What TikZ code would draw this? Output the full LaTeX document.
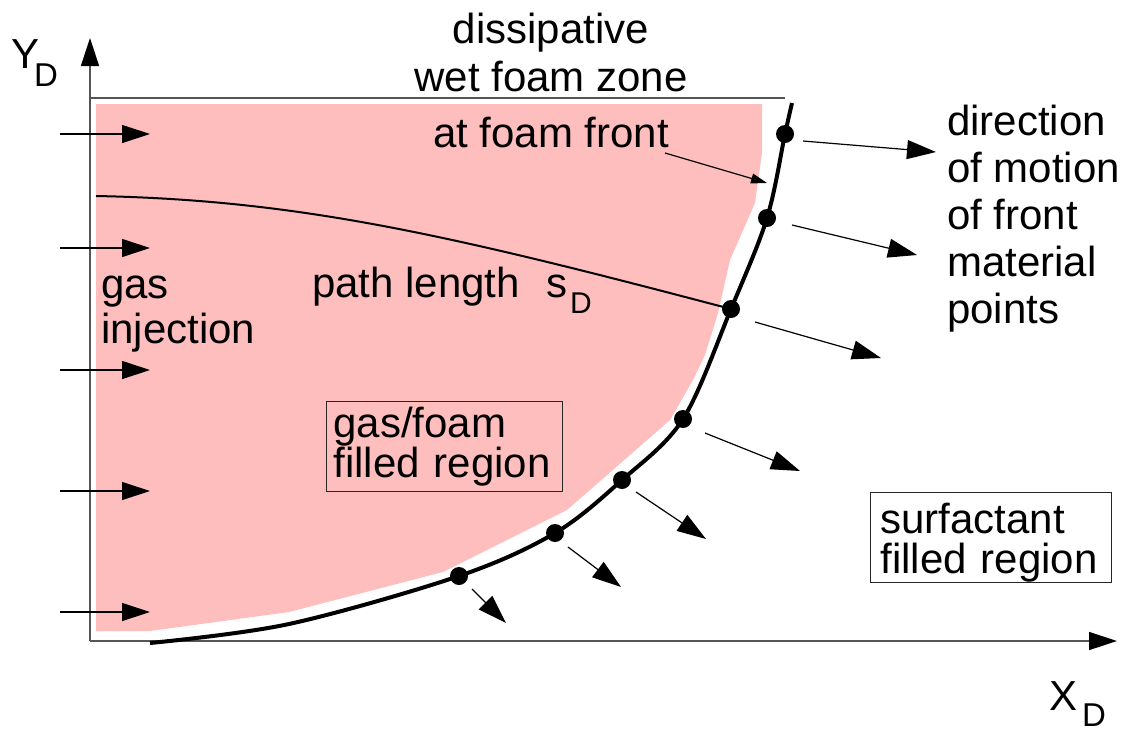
\documentclass[tikz,border=0pt]{standalone}
\usepackage{fontspec}
\setmainfont{Liberation Sans}
\usetikzlibrary{arrows.meta}
\definecolor{foam}{RGB}{255,190,190}
\definecolor{axisgray}{RGB}{85,85,85}
\begin{document}
\begin{tikzpicture}[x=1pt,y=-1pt,
  lbl/.style={font=\fontsize{42}{48}\selectfont, inner sep=0pt, anchor=base west, align=left},
  axisline/.style={line width=1.5pt, draw=axisgray, -{Triangle[length=28pt,width=18pt,color=black]}},
  flow/.style={line width=1.2pt, -{Triangle[length=28pt,width=18pt]}},
  motion/.style={line width=1.2pt, -{Triangle[length=29pt,width=19pt]}},
  pointer/.style={line width=1.2pt, -{Triangle[length=16pt,width=10pt]}},
  frontline/.style={line width=4pt},
  dot/.style={circle, fill=black, minimum size=18pt, inner sep=0pt},
  regionbox/.style={draw=black!85, line width=1pt, inner ysep=0pt, anchor=north west, align=left, font=\fontsize{42}{40}\selectfont}
]
\useasboundingbox (0,0) rectangle (1133,729);

% foam region
\fill[foam] (96,104) -- (762,104) -- (762,153) -- (755,203) -- (730,260) -- (718,313)
  -- (705,355) -- (693,380) -- (670,420) -- (567,510) -- (443,572) -- (289,612)
  -- (150,631) -- (96,631) -- cycle;

% axes
\coordinate (origin) at (90,641);
\coordinate (ytip) at (90,38);
\coordinate (xtip) at (1117,641);
\coordinate (topL) at (90,98);
\coordinate (topR) at (785,98);
\draw[line width=1.5pt, draw=axisgray] (topL) -- (topR);
\draw[axisline] (origin) -- (ytip);
\draw[axisline] (origin) -- (xtip);

% path length curve
\coordinate (pstart) at (96,196);

% front points
\node[dot] (p1) at (459,576) {};
\node[dot] (p2) at (555,533) {};
\node[dot] (p3) at (622,480) {};
\node[dot] (p4) at (683,419) {};
\node[dot] (p5) at (731,309) {};
\node[dot] (p6) at (767,218) {};
\node[dot] (p7) at (785,134) {};

\draw[line width=2pt] (pstart) .. controls (300,200) and (450,235) .. (p5.center);

\coordinate (fstart) at (150,643);
\coordinate (fend) at (792,103);
\draw[frontline] plot[smooth, tension=0.55] coordinates {(150,643) (289,624) (459,576) (555,533) (622,480) (683,419) (731,309) (767,218) (785,134) (792,103)};

% injection arrows
\foreach \i/\yy in {1/134,2/248,3/370,4/491,5/612}{
  \coordinate (is\i) at (60,\yy);
  \coordinate (ie\i) at (150,\yy);
  \draw[flow] (is\i) -- (ie\i);
}

% motion arrows
\foreach \i/\sx/\sy/\ex/\ey in {1/803/141/936/152, 2/792/225/917/255, 3/755/322/881/358,
  4/705/433/800/471, 5/636/492/706/539, 6/568/547/621/587, 7/472/589/506/623}{
  \coordinate (ms\i) at (\sx,\sy);
  \coordinate (me\i) at (\ex,\ey);
  \draw[motion] (ms\i) -- (me\i);
}

% pointer to foam front
\coordinate (ptrS) at (665,153);
\coordinate (ptrE) at (767,183);
\draw[pointer] (ptrS) -- (ptrE);

% labels
\node[lbl] (ylab) at (11,68) {Y\kern-5pt\raisebox{-18pt}{\fontsize{33}{33}\selectfont D}};
\node[lbl] (xlab) at (1049,710) {X\kern5pt\raisebox{-16pt}{\fontsize{33}{33}\selectfont D}};
\node[lbl, anchor=base, align=center] (diss) at (551,91) {dissipative\\wet foam zone};
\node[lbl] (atfront) at (433,147) {at foam front};
\node[lbl, font=\fontsize{42}{47}\selectfont] (direction) at (947,323) {direction\\of motion\\of front\\material\\points};
\node[lbl, font=\fontsize{42}{45}\selectfont] (inj) at (101,343) {gas\\injection};
\node[lbl] (plen) at (312,297) {path length\hspace{27pt}s\kern2pt\raisebox{-16pt}{\fontsize{30}{30}\selectfont D}};

\node[regionbox, inner xsep=7pt, text width=222pt] (gasbox) at (326,401)
  {\rule{0pt}{36pt}gas/foam\\filled region\rule[-14pt]{0pt}{14pt}};
\node[regionbox, inner xsep=10pt, text width=221pt] (surfbox) at (870,492)
  {\rule{0pt}{41pt}surfactant\\filled region\rule[-9pt]{0pt}{9pt}};
\end{tikzpicture}
\end{document}
